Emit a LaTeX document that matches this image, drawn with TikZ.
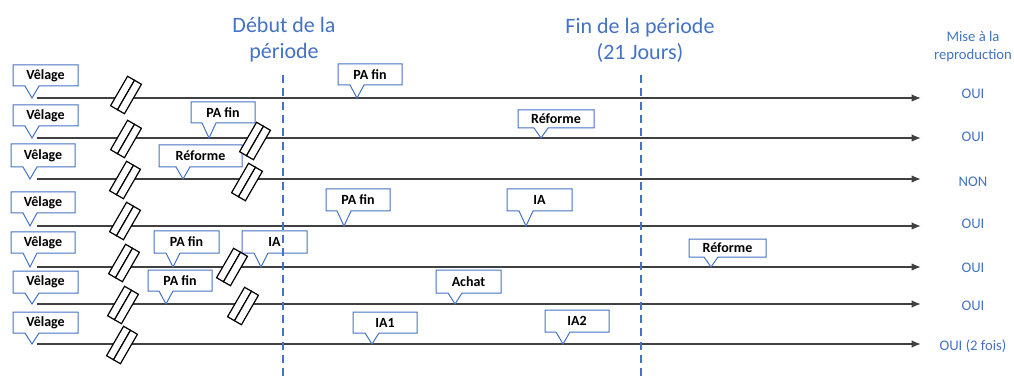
\documentclass[tikz,border=0pt]{standalone}
\usepackage{fontspec}
\setmainfont{Carlito}
\usetikzlibrary{arrows.meta}
\definecolor{cblue}{HTML}{4472C4}
\definecolor{tline}{HTML}{404040}
\tikzset{
  tl/.style={draw=tline, line width=1pt, -{Latex[length=7pt,width=5.5pt]}},
  dashv/.style={draw=cblue, line width=1.5pt, dash pattern=on 6pt off 4pt},
  cbox/.style={draw=cblue, fill=white, line width=0.75pt},
  ctext/.style={font=\fontsize{10.5}{12}\selectfont\bfseries, text=black, inner sep=0pt},
  restext/.style={font=\fontsize{11}{13.5}\selectfont, text=cblue, align=center},
  titletext/.style={font=\fontsize{16.5}{19.5}\selectfont, text=cblue, align=center},
  brkrect/.style={draw=black, fill=white, line width=0.9pt},
  brk/.pic={
    \begin{scope}[rotate=-30]
    \path[brkrect] (-8,-17) rectangle (0,17);
    \path[brkrect] (0,-17) rectangle (8,17);
    \end{scope}
  }
}
\newcommand\cbubble[8]{%
  \path[cbox] (#2,#3) -- (#4,#3) -- (#4,#5) -- ({#6+7},#5) -- (#6,#7) -- ({#6-7},#5) -- (#2,#5) -- cycle;
  \node[ctext] (#1) at ({(#2+#4)/2},{(#3+#5)/2}) {#8};}
\begin{document}
\begin{tikzpicture}[x=0.75pt,y=-0.75pt]
\useasboundingbox (0,0) rectangle (1014,381);
% titles
\node[titletext] (tdeb) at (284,40) {Début de la\\période};
\node[titletext] (tfin) at (640,40) {Fin de la période\\(21 Jours)};
\node[restext] (tmise) at (973,47) {Mise à la\\reproduction};
% timelines
\foreach \i/\y in {1/98,2/138,3/179,4/226,5/267,6/304,7/344}{
  \coordinate (s\i) at (37,\y);
  \coordinate (e\i) at (921,\y);
  \draw[tl] (s\i) -- (e\i);
}
% results
\node[restext] (r1) at (973,94) {OUI};
\node[restext] (r2) at (973,137) {OUI};
\node[restext] (r3) at (973,182) {NON};
\node[restext] (r4) at (973,224) {OUI};
\node[restext] (r5) at (973,268) {OUI};
\node[restext] (r6) at (973,306) {OUI};
\node[restext] (r7) at (973,346) {OUI (2 fois)};
% callouts
\cbubble{v1}{13}{65}{78}{86}{32}{98}{Vêlage}
\cbubble{v2}{13}{105}{78}{126}{32}{138}{Vêlage}
\cbubble{v3}{11}{144}{75}{167}{30}{179}{Vêlage}
\cbubble{v4}{11}{192}{75}{213}{30}{226}{Vêlage}
\cbubble{v5}{11}{232}{75}{253}{30}{267}{Vêlage}
\cbubble{v6}{13}{271}{78}{293}{32}{304}{Vêlage}
\cbubble{v7}{13}{312}{78}{333}{32}{344}{Vêlage}
\cbubble{pa1}{338}{64}{402}{85}{357}{98}{PA fin}
\cbubble{pa2}{191}{102}{255}{123}{209}{138}{PA fin}
\cbubble{rf2}{518}{110}{594}{128}{541}{138}{Réforme}
\cbubble{rf3}{159}{145}{242}{167}{183}{179}{Réforme}
\cbubble{pa4}{326}{189}{390}{211}{344}{226}{PA fin}
\cbubble{ia4}{507}{189}{572}{211}{526}{226}{IA}
\cbubble{pa5}{154}{231}{219}{253}{173}{267}{PA fin}
\cbubble{ia5}{242}{231}{307}{253}{261}{267}{IA}
\cbubble{rf5}{689}{239}{766}{257}{711}{267}{Réforme}
\cbubble{pa6}{148}{270}{212}{291}{166}{304}{PA fin}
\cbubble{ac6}{436}{270}{501}{293}{455}{304}{Achat}
\cbubble{ia7a}{353}{312}{417}{333}{372}{344}{IA1}
\cbubble{ia7b}{545}{310}{609}{332}{563}{344}{IA2}
% breaks
\foreach \bx/\by in {126/95,126/139,255/141,125/180,247/182,125/221,124/263,232/267,123/305,243/306,122/345}{
  \pic at (\bx,\by) {brk};
}
% period limits
\coordinate (d1t) at (283,75);
\coordinate (d1b) at (283,381);
\coordinate (d2t) at (641,75);
\coordinate (d2b) at (641,381);
\draw[dashv] (d1t) -- (d1b);
\draw[dashv] (d2t) -- (d2b);
\end{tikzpicture}
\end{document}
